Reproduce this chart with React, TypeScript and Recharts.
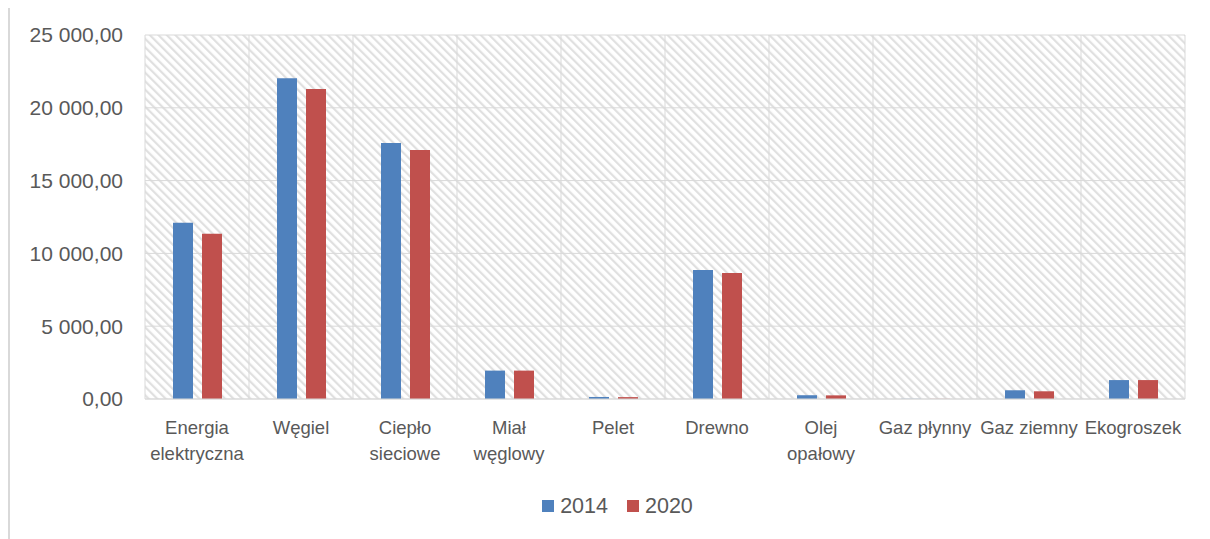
import { Bar, BarChart, CartesianGrid, Legend, XAxis, YAxis } from "recharts";

const categories = [
  "Energia elektryczna",
  "Węgiel",
  "Ciepło sieciowe",
  "Miał węglowy",
  "Pelet",
  "Drewno",
  "Olej opałowy",
  "Gaz płynny",
  "Gaz ziemny",
  "Ekogroszek",
];
// how each category label is broken into lines under the axis
const labelLines = [
  ["Energia", "elektryczna"],
  ["Węgiel"],
  ["Ciepło", "sieciowe"],
  ["Miał", "węglowy"],
  ["Pelet"],
  ["Drewno"],
  ["Olej", "opałowy"],
  ["Gaz płynny"],
  ["Gaz ziemny"],
  ["Ekogroszek"],
];
const values2014 = [12110, 22030, 17580, 1950, 140, 8860, 260, 10, 600, 1300];
const values2020 = [11350, 21290, 17100, 1950, 130, 8650, 250, 8, 530, 1300];
const yTicks = [0, 5000, 10000, 15000, 20000, 25000];
const seriesNames = ["2014", "2020"];
const colors = ["#4F81BD", "#C0504D"];

const data = categories.map((c, i) => ({
  category: c,
  v2014: values2014[i],
  v2020: values2020[i],
}));

const FONT = "'Liberation Sans', Arial, sans-serif";
const TEXT = "#595959";
const GRID = "#D9D9D9";

const fmt = (v: number) => {
  const s = Math.round(v).toString().replace(/\B(?=(\d{3})+(?!\d))/g, " ");
  return `${s},00`;
};

function CategoryTick(props: any) {
  const { x, y, index } = props;
  const lines = labelLines[index] ?? [String(props.payload?.value ?? "")];
  return (
    <text x={x} y={y} textAnchor="middle" fill={TEXT} fontSize={18.5} fontFamily={FONT}>
      {lines.map((l, i) => (
        <tspan key={i} x={x} y={y + 35 + i * 26}>
          {l}
        </tspan>
      ))}
    </text>
  );
}

function LegendContent() {
  return (
    <div style={{ display: "flex", justifyContent: "center", alignItems: "center", height: 30, paddingLeft: 40, fontFamily: FONT, fontSize: 21.5, color: TEXT }}>
      {seriesNames.map((n, i) => (
        <div key={n} style={{ display: "flex", alignItems: "center", marginRight: i === 0 ? 19 : 0 }}>
          <span style={{ width: 12, height: 12, background: colors[i], display: "inline-block", marginRight: 6 }} />
          <span>{n}</span>
        </div>
      ))}
    </div>
  );
}

export default function App() {
  return (
    <>
      <style>{`body{margin:8px;overflow:hidden;}`}</style>
      <svg width={0} height={0} style={{ position: "absolute" }}>
        <defs>
          <pattern id="hatch" width={6} height={6} patternUnits="userSpaceOnUse" patternTransform="rotate(-45)">
            <rect width={6} height={6} fill="#FFFFFF" />
            <rect x={0} y={0} width={2.2} height={6} fill="#E0E0E0" />
          </pattern>
        </defs>
      </svg>
      <div
        style={{
          position: "relative",
          marginTop: -3,
          width: 1202,
          height: 534,
          borderLeft: `2px solid ${GRID}`,
          borderTop: `2px solid ${GRID}`,
          boxSizing: "border-box",
          background: "#fff",
        }}
      >
        <BarChart
          width={1200}
          height={532}
          data={data}
          margin={{ top: 28, right: 25, left: 0, bottom: 18 }}
          barSize={20}
          barGap={9}
        >
          <CartesianGrid
            stroke={GRID}
            strokeWidth={1}
            fill="url(#hatch)"
            fillOpacity={1}
            verticalCoordinatesGenerator={({ offset }: any) =>
              categories.map((_, i) => offset.left + (offset.width * i) / categories.length).concat(offset.left + offset.width)
            }
          />
          <XAxis
            dataKey="category"
            height={92}
            tickLine={false}
            tickSize={0}
            tickMargin={0}
            axisLine={{ stroke: GRID, strokeWidth: 1 }}
            interval={0}
            tick={<CategoryTick />}
          />
          <YAxis
            width={135}
            domain={[0, 25000]}
            ticks={yTicks}
            tickFormatter={fmt}
            axisLine={false}
            tickLine={false}
            tickSize={0}
            tickMargin={22}
            tick={{ fill: TEXT, fontSize: 21, fontFamily: FONT }}
          />
          <Legend verticalAlign="bottom" content={<LegendContent />} />
          <Bar dataKey="v2014" name="2014" fill={colors[0]} isAnimationActive={false} />
          <Bar dataKey="v2020" name="2020" fill={colors[1]} isAnimationActive={false} />
        </BarChart>
      </div>
    </>
  );
}
